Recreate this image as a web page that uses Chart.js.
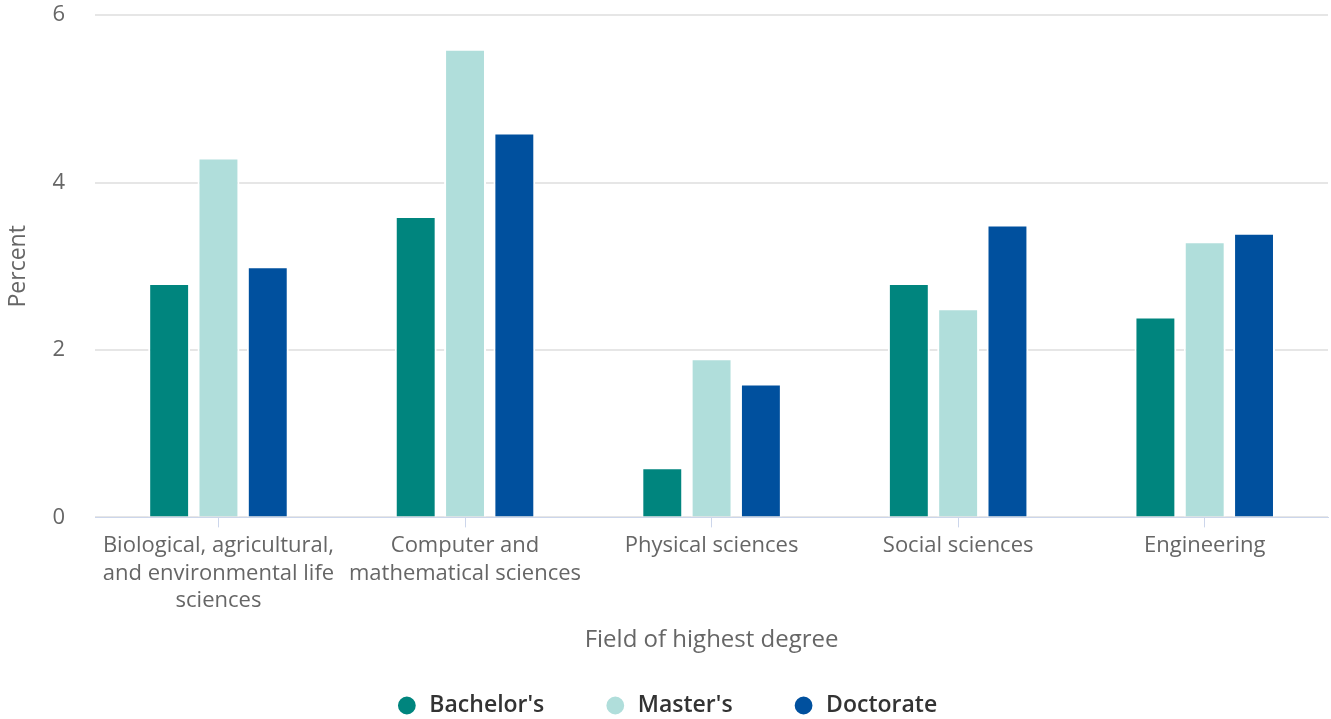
<!DOCTYPE html>
<html>
<head>
<meta charset="utf-8">
<script src="https://cdn.jsdelivr.net/npm/chart.js@4/dist/chart.umd.min.js"></script>
<style>
  body { margin: 0; background: #fff; }
  #wrap { width: 1331px; height: 719px; }
</style>
</head>
<body>
<div id="wrap"><canvas id="chart"></canvas></div>
<script>
// fields of highest degree (wrapped as in the original)
const fields = [
    ['Biological, agricultural,', 'and environmental life', 'sciences'],
    ['Computer and', 'mathematical sciences'],
    'Physical sciences',
    'Social sciences',
    'Engineering'
];
const bachelors = [2.8, 3.6, 0.6, 2.8, 2.4];
const masters = [4.3, 5.6, 1.9, 2.5, 3.3];
const doctorate = [3.0, 4.6, 1.6, 3.5, 3.4];
const yTicks = [0, 2, 4, 6];

const font = "'Open Sans', sans-serif";

const ctx = document.getElementById('chart').getContext('2d');
new Chart(ctx, {
    type: 'bar',
    data: {
        labels: fields,
        datasets: [
            { label: "Bachelor's", data: bachelors, backgroundColor: '#00857e' },
            { label: "Master's", data: masters, backgroundColor: '#b0dedb' },
            { label: 'Doctorate', data: doctorate, backgroundColor: '#00509e' }
        ].map(d => Object.assign(d, {
            borderColor: '#ffffff',
            borderWidth: 2,
            categoryPercentage: 0.6,
            barPercentage: 0.85
        }))
    },
    options: {
        responsive: true,
        maintainAspectRatio: false,
        animation: false,
        layout: { padding: { top: 0, right: 3, left: 5, bottom: -8 } },
        plugins: {
            tooltip: { enabled: false },
            legend: {
                position: 'bottom',
                labels: {
                    usePointStyle: true,
                    pointStyle: 'circle',
                    boxWidth: 22,
                    boxHeight: 14,
                    padding: 60,
                    color: '#333333',
                    font: { family: font, size: 23, weight: '600' }
                }
            }
        },
        scales: {
            x: {
                grid: {
                    offset: false,
                    drawOnChartArea: false,
                    color: '#ccd6eb',
                    tickLength: 10
                },
                border: { color: '#ccd6eb', width: 1 },
                ticks: {
                    color: '#666666',
                    font: { family: font, size: 22, lineHeight: 1.27 },
                    maxRotation: 0,
                    autoSkip: false,
                    padding: 4
                },
                title: {
                    display: true,
                    text: 'Field of highest degree',
                    color: '#666666',
                    font: { family: font, size: 24 },
                    padding: { top: 7, bottom: -21 }
                }
            },
            y: {
                min: 0,
                max: 6,
                afterBuildTicks: axis => { axis.ticks = yTicks.map(v => ({ value: v })); },
                grid: {
                    color: '#e6e6e6',
                    lineWidth: 2,
                    drawTicks: true,
                    tickLength: 28,
                    tickColor: 'rgba(0,0,0,0)'
                },
                border: { display: false },
                ticks: {
                    color: '#666666',
                    font: { family: font, size: 22 },
                    padding: 2
                },
                title: {
                    display: true,
                    text: 'Percent',
                    color: '#666666',
                    font: { family: font, size: 23 },
                    padding: { top: 0, bottom: 18 }
                }
            }
        }
    }
});
</script>
</body>
</html>
